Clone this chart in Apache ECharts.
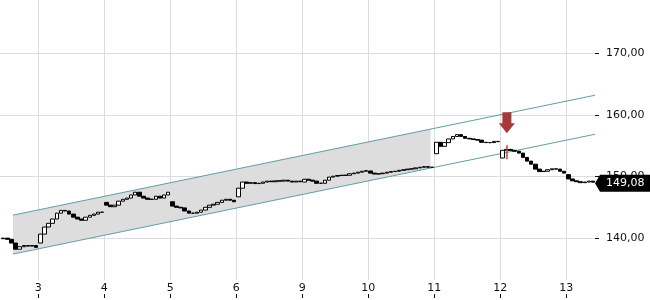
<!DOCTYPE html>
<html lang="de">
<head>
    <meta charset="UTF-8">
    <title>Chart</title>
    <script src="https://cdn.jsdelivr.net/npm/echarts@6/dist/echarts.min.js"></script>
    <style>
        html, body { margin: 0; padding: 0; background: #fff; }
        #chart { width: 650px; height: 300px; }
    </style>
</head>
<body>
<div id="chart"></div>
<script>
    // trading days shown on the x axis (weekend 7/8 skipped)
    var dayLabels = ['3', '4', '5', '6', '9', '10', '11', '12', '13'];
    var dayTicks = [0, 1, 2, 3, 4, 5, 6, 7, 8];
    var yTicks = [140, 150, 160, 170];

    // each day: first value is the opening price, then closes of 1/16-day slots
    var slotsPerDay = 16;
    var firstSlot = 7; // day 2 is only visible from slot 7
    var day2 = [139.9, 140.0, 139.8, 139.2, 138.2, 138.6, 138.8, 138.7, 138.8, 138.5];
    var day3 = [139.2, 140.65, 141.8, 142.4, 143.1, 144.05, 144.5, 144.4, 143.9, 143.4, 143.1, 142.9, 143.4, 143.7, 143.9, 144.2, 144.2];
    var day4 = [145.8, 145.35, 145.1, 145.35, 146.0, 146.3, 146.5, 147.0, 147.45, 146.8, 146.5, 146.3, 146.3, 146.8, 146.5, 147.0, 147.45];
    var day5 = [145.9, 145.2, 145.0, 144.9, 144.4, 144.05, 144.05, 144.2, 144.55, 145.0, 145.35, 145.5, 145.8, 146.15, 146.3, 146.15, 145.9];
    var day6 = [146.7, 148.1, 149.1, 148.9, 149.0, 148.85, 148.9, 149.1, 149.25, 149.15, 149.3, 149.25, 149.4, 149.25, 149.1, 149.25, 149.15];
    var day9 = [149.1, 149.55, 149.4, 149.25, 148.9, 148.9, 149.4, 149.9, 150.05, 150.15, 150.2, 150.2, 150.45, 150.55, 150.7, 150.85, 150.95];
    var day10 = [150.9, 150.55, 150.4, 150.45, 150.55, 150.7, 150.8, 150.85, 151.0, 151.1, 151.2, 151.25, 151.4, 151.5, 151.6, 151.5, 151.5];
    var day11 = [153.7, 155.55, 154.9, 155.5, 156.1, 156.5, 156.8, 156.5, 156.2, 156.1, 156.0, 155.9, 155.55, 155.5, 155.5, 155.7, 155.65];
    var day12 = [153.0, 154.25, 154.4, 154.25, 154.1, 153.8, 153.1, 152.5, 152.0, 151.2, 150.8, 150.85, 151.1, 151.25, 151.2, 150.85, 150.55];
    var day13 = [150.3, 149.6, 149.3, 149.15, 149.0, 149.1, 149.25, 149.08];
    var lastPrice = 149.08;

    // trend channel (x in trading days from "3")
    var channelX = [-0.383, 8.435];
    var upperLine = [143.73, 163.19];
    var lowerLine = [137.41, 156.86];
    var shadeX = [-0.383, 5.945];
    var shadeUpper = [143.73, 157.70];
    var shadeLower = [137.41, 151.38];

    // sell signal
    var signalX = 7.10;
    var arrowTip = 157.03;
    var signalBar = [155.08, 152.81];

    var xMin = -0.58, xMax = 8.435;
    var yMin = 133.2, yMax = 178.65;

    var days = [day2, day3, day4, day5, day6, day9, day10, day11, day12, day13];
    var candles = [];
    days.forEach(function (d, i) {
        var first = i === 0 ? firstSlot : 0;
        var open = d[0];
        for (var k = 1; k < d.length; k++) {
            var close = d[k];
            var x = i - 1 + (first + k - 0.5) / slotsPerDay;
            candles.push([x, open, close, Math.min(open, close), Math.max(open, close)]);
            open = close;
        }
    });

    var fmt = function (v) { return v.toFixed(2).replace('.', ','); };
    var font = 'DejaVu Sans';

    var option = {
        animation: false,
        grid: { left: 0, right: 55, top: 0, bottom: 20 },
        xAxis: {
            type: 'value', min: xMin, max: xMax, position: 'bottom',
            axisLine: { show: false, onZero: false },
            axisTick: { show: false, customValues: dayTicks },
            axisLabel: {
                customValues: dayTicks,
                margin: 3, color: '#111', fontSize: 11, fontFamily: font,
                formatter: function (v) { return dayLabels[Math.round(v)]; }
            },
            splitLine: { show: true, lineStyle: { color: '#dcdcdc', width: 1 } }
        },
        yAxis: {
            type: 'value', position: 'right', min: yMin, max: yMax,
            axisLine: { show: false, onZero: false },
            axisTick: { show: true, length: 4, customValues: yTicks, lineStyle: { color: '#111' } },
            axisLabel: {
                customValues: yTicks, margin: 11, color: '#111', fontSize: 11, fontFamily: font,
                formatter: fmt
            },
            splitLine: { show: true, lineStyle: { color: '#dcdcdc', width: 1 } }
        },
        series: [{
            type: 'custom', z: 1, silent: true,
            data: [[shadeX[0], shadeUpper[0]]],
            renderItem: function (params, api) {
                var pts = [
                    api.coord([shadeX[0], shadeUpper[0]]),
                    api.coord([shadeX[1], shadeUpper[1]]),
                    api.coord([shadeX[1], shadeLower[1]]),
                    api.coord([shadeX[0], shadeLower[0]])
                ];
                return { type: 'polygon', shape: { points: pts }, style: { fill: '#dddddd' } };
            }
        }, {
            type: 'line', z: 2, symbol: 'none', silent: true,
            data: [[channelX[0], upperLine[0]], [channelX[1], upperLine[1]]],
            lineStyle: { color: '#5e9ea6', width: 1 }
        }, {
            type: 'line', z: 2, symbol: 'none', silent: true,
            data: [[channelX[0], lowerLine[0]], [channelX[1], lowerLine[1]]],
            lineStyle: { color: '#5e9ea6', width: 1 }
        }, {
            type: 'candlestick', z: 3,
            barWidth: 4,
            encode: { x: 0, y: [1, 2, 3, 4] },
            data: candles,
            itemStyle: {
                color: '#ffffff', color0: '#000000',
                borderColor: '#000000', borderColor0: '#000000', borderWidth: 1
            }
        }, {
            type: 'custom', z: 4, silent: true,
            data: [[signalX, arrowTip]],
            renderItem: function (params, api) {
                var t = api.coord([signalX, arrowTip]);
                var a = api.coord([signalX, signalBar[0]]);
                var b = api.coord([signalX, signalBar[1]]);
                return {
                    type: 'group',
                    children: [{
                        type: 'polygon',
                        shape: { points: [
                            [t[0], t[1]], [t[0] + 8, t[1] - 10], [t[0] + 4.5, t[1] - 10],
                            [t[0] + 4.5, t[1] - 21], [t[0] - 4.5, t[1] - 21],
                            [t[0] - 4.5, t[1] - 10], [t[0] - 8, t[1] - 10]
                        ] },
                        style: { fill: '#a53a3a' }
                    }, {
                        type: 'line',
                        shape: { x1: a[0], y1: a[1], x2: b[0], y2: b[1] },
                        style: { stroke: 'rgba(190,70,70,0.8)', lineWidth: 2 }
                    }]
                };
            }
        }, {
            // small tick marks under the day labels
            type: 'custom', z: 5, silent: true, clip: false,
            data: dayTicks.map(function (d) { return [d, yMin]; }),
            renderItem: function (params, api) {
                var p = api.coord([api.value(0), yMin]);
                var x = Math.round(p[0]) + 0.5;
                return {
                    type: 'line',
                    shape: { x1: x, y1: p[1] + 14, x2: x, y2: p[1] + 18 },
                    style: { stroke: '#111', lineWidth: 1 }
                };
            }
        }, {
            type: 'custom', z: 5, silent: true, clip: false,
            data: [[xMax, lastPrice]],
            renderItem: function (params, api) {
                var p = api.coord([xMax, lastPrice]);
                var x0 = p[0], y0 = p[1] + 1;
                return {
                    type: 'group',
                    children: [{
                        type: 'polygon',
                        shape: { points: [[x0, y0], [x0 + 5, y0 - 8.5], [x0 + 60, y0 - 8.5], [x0 + 60, y0 + 8.5], [x0 + 5, y0 + 8.5]] },
                        style: { fill: '#000000' }
                    }, {
                        type: 'text',
                        style: {
                            x: x0 + 11, y: y0, text: fmt(lastPrice),
                            fill: '#ffffff', font: '11px "DejaVu Sans"',
                            verticalAlign: 'middle', align: 'left'
                        }
                    }]
                };
            }
        }]
    };

    var myChart = echarts.init(document.getElementById('chart'));
    myChart.setOption(option);
</script>
</body>
</html>
